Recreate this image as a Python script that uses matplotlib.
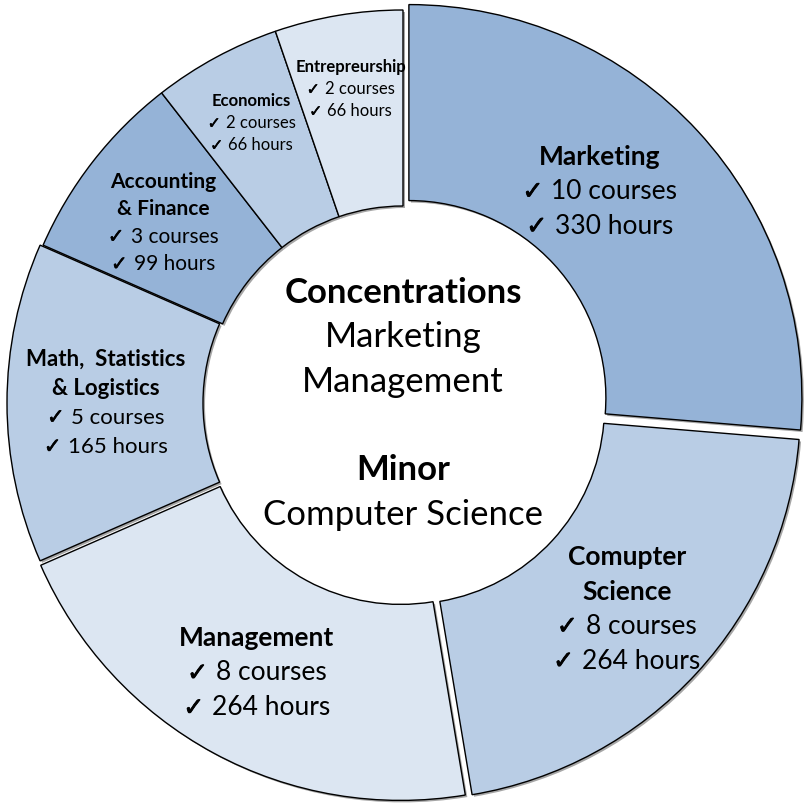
import numpy as np
import matplotlib.pyplot as plt
import matplotlib.patheffects as pe
from matplotlib.patches import Wedge
from matplotlib.offsetbox import TextArea, HPacker, AnnotationBbox

# Data
subjects = ['Marketing', 'Comupter\nScience', 'Management', 'Math,  Statistics\n& Logistics',
            'Accounting\n& Finance', 'Economics', 'Entrepreurship']
courses = [10, 8, 8, 5, 3, 2, 2]
hours = [330, 264, 264, 165, 99, 66, 66]
center_lines = [('Concentrations', 'bold'), ('Marketing', 'normal'), ('Management', 'normal'),
                ('Minor', 'bold'), ('Computer Science', 'normal')]

# Styling
colors = ['#95B3D7', '#B9CDE5', '#DCE6F2', '#B9CDE5', '#95B3D7', '#B9CDE5', '#DCE6F2']
explode = [8, 6, 5, 3, 0, 0, 0]        # px offset of each wedge
label_r = [281, 298, 302, 294, 300, 318, 318]
label_frac = [0.452, 0.5, 0.5, 0.5, 0.465, 0.5, 0.5]   # position along the wedge
label_fs = [19, 19, 19, 16, 15, 12, 12]
FONT = ['Lato', 'DejaVu Sans']

R_OUT, R_IN = 393, 197
CX, CY = 0, 1

fig = plt.figure(figsize=(8.06, 8.08), dpi=100)
ax = fig.add_axes([0, 0, 1, 1])
ax.set_xlim(-403, 403)
ax.set_ylim(-404, 404)
ax.set_aspect('equal')
ax.axis('off')

total = float(sum(hours))
angles = np.cumsum([0] + [h / total * 360 for h in hours])
start = 90 - angles[:-1]
end = 90 - angles[1:]


def check_line(x, y, txt, fs):
    # heavier check mark followed by the text
    chk = TextArea('\u2713', textprops=dict(
        fontsize=fs * 0.95, family='DejaVu Sans',
        path_effects=[pe.withStroke(linewidth=fs * 0.03, foreground='black')]))
    rest = TextArea(txt, textprops=dict(fontsize=fs, family=FONT))
    box = HPacker(children=[chk, rest], align='baseline', pad=0, sep=fs * 0.3)
    ab = AnnotationBbox(box, (x, y), frameon=False, box_alignment=(0.5, 0.5),
                        pad=0, zorder=5)
    ax.add_artist(ab)


for i in range(len(hours)):
    mid = np.deg2rad((start[i] + end[i]) / 2)
    ox = CX + explode[i] * np.cos(mid)
    oy = CY + explode[i] * np.sin(mid)
    # shadow
    ax.add_patch(Wedge((ox + 2, oy - 2), R_OUT, end[i], start[i], width=R_OUT - R_IN,
                       facecolor='#A6A6A6', edgecolor='none', zorder=1))
    ax.add_patch(Wedge((ox, oy), R_OUT, end[i], start[i], width=R_OUT - R_IN,
                       facecolor=colors[i], edgecolor='black', linewidth=1.0, zorder=2))

    # label
    la = np.deg2rad(start[i] + (end[i] - start[i]) * label_frac[i])
    lx = ox + label_r[i] * np.cos(la)
    ly = oy + label_r[i] * np.sin(la)
    titles = subjects[i].split('\n')
    n = len(titles) + 2
    fs = label_fs[i]
    step = 1.83 * fs
    y0 = ly + step * (n - 1) / 2
    for k, t in enumerate(titles):
        ax.text(lx, y0 - k * step, t, ha='center', va='center', fontsize=fs,
                fontweight='bold', family=FONT, zorder=5)
    k = len(titles)
    check_line(lx, y0 - k * step, '%d courses' % courses[i], fs)
    check_line(lx, y0 - (k + 1) * step, '%d hours' % hours[i], fs)

# center text
center_y = [111, 67, 22, -66, -111]
for (txt, w), y in zip(center_lines, center_y):
    ax.text(0, y, txt, ha='center', va='center', fontsize=25, fontweight=w,
            family=FONT, zorder=5)

fig.savefig('out.png', dpi=100, facecolor='white')
